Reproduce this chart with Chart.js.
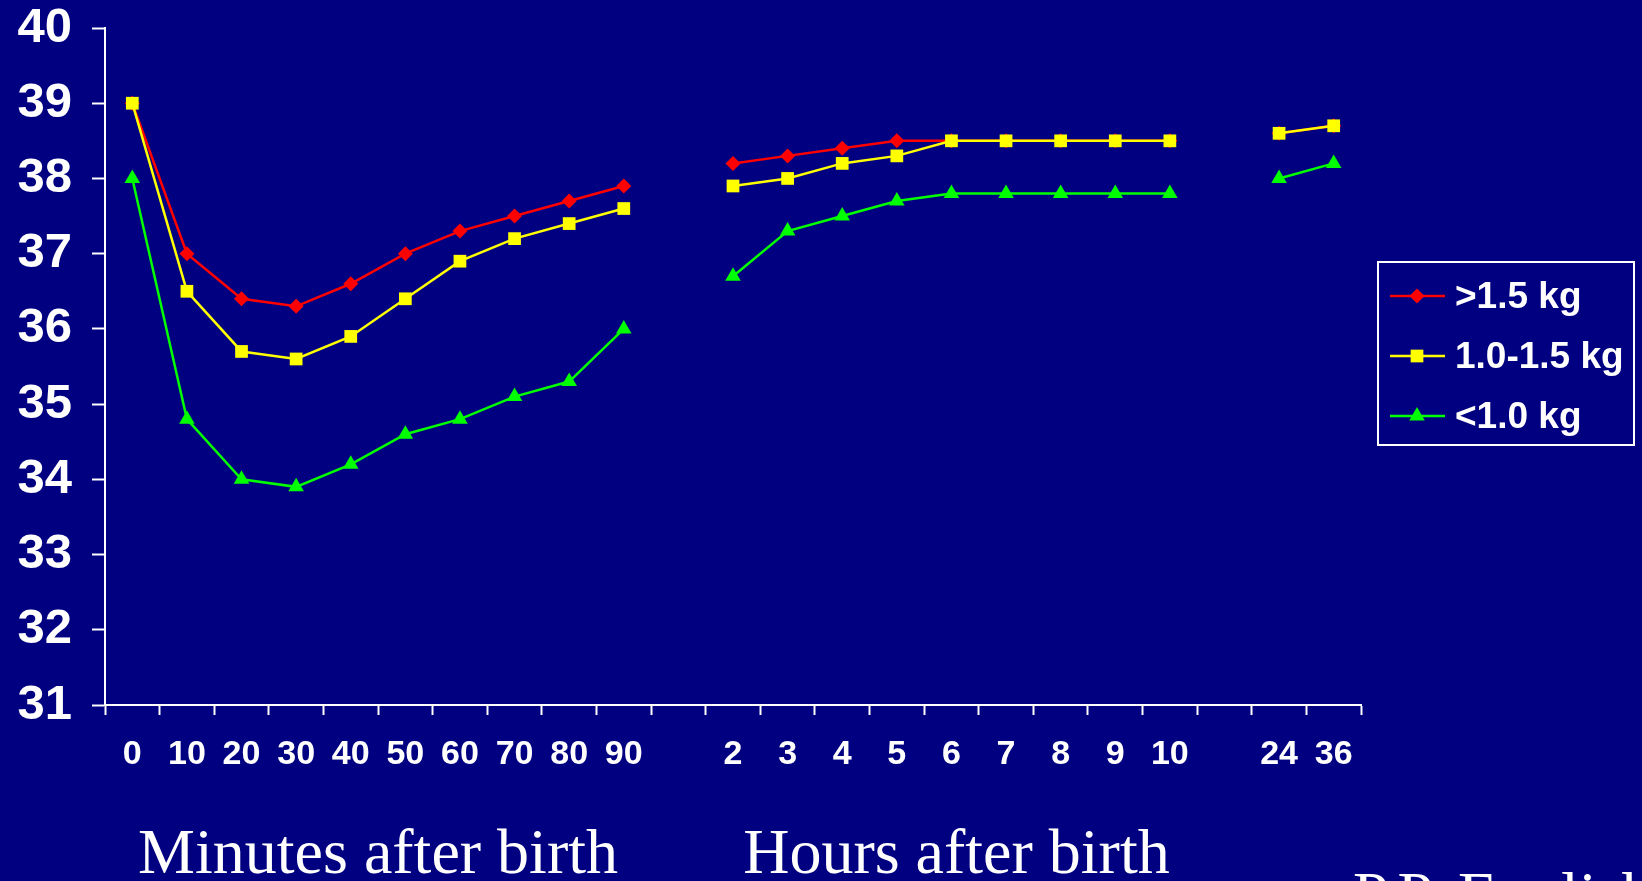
<!DOCTYPE html>
<html>
<head>
<meta charset="utf-8">
<script src="https://cdn.jsdelivr.net/npm/chart.js@4.4.1/dist/chart.umd.min.js"></script>
<style>
    html, body { margin: 0; padding: 0; background: #000080; }
    #wrap { position: relative; width: 1642px; height: 881px; overflow: hidden; }
</style>
</head>
<body>
<div id="wrap"><canvas id="tempChart"></canvas></div>
<script>
// --- Data ---
// minutes 0..90, gap, hours 2..10, gap, hours 24 and 36
const xLabels = ['0', '10', '20', '30', '40', '50', '60', '70', '80', '90', '',
                 '2', '3', '4', '5', '6', '7', '8', '9', '10', '', '24', '36'];

const seriesNames = ['>1.5 kg', '1.0-1.5 kg', '<1.0 kg'];

const over15 = [39.0, 37.0, 36.4, 36.3, 36.6, 37.0, 37.3, 37.5, 37.7, 37.9, null,
                38.2, 38.3, 38.4, 38.5, 38.5, 38.5, 38.5, 38.5, 38.5, null, 38.6, 38.7];
const from10to15 = [39.0, 36.5, 35.7, 35.6, 35.9, 36.4, 36.9, 37.2, 37.4, 37.6, null,
                    37.9, 38.0, 38.2, 38.3, 38.5, 38.5, 38.5, 38.5, 38.5, null, 38.6, 38.7];
const under10 = [38.0, 34.8, 34.0, 33.9, 34.2, 34.6, 34.8, 35.1, 35.3, 36.0, null,
                 36.7, 37.3, 37.5, 37.7, 37.8, 37.8, 37.8, 37.8, 37.8, null, 38.0, 38.2];

const yMin = 31;
const yMax = 40;

const axisTitles = ['Minutes after birth', 'Hours after birth'];
const sourceNote = 'P.P. English';

const colors = ['#ff0000', '#ffff00', '#00ff00'];
const markers = ['rectRot', 'rect', 'triangle'];
const markerSizes = [7.5, 9, 9];

// --- helpers ---
function drawMarker(ctx, style, x, y, r, color) {
    ctx.fillStyle = color;
    ctx.beginPath();
    if (style === 'rectRot') {
        ctx.moveTo(x, y - r); ctx.lineTo(x + r, y); ctx.lineTo(x, y + r); ctx.lineTo(x - r, y);
    } else if (style === 'rect') {
        const s = r * Math.SQRT1_2;
        ctx.rect(x - s, y - s, 2 * s, 2 * s);
    } else {
        ctx.moveTo(x, y - r);
        ctx.lineTo(x + r * 0.866, y + r * 0.5);
        ctx.lineTo(x - r * 0.866, y + r * 0.5);
    }
    ctx.closePath();
    ctx.fill();
}

// titles under the axis + boxed legend on the right
const extrasPlugin = {
    id: 'extras',
    afterDraw(chart) {
        const ctx = chart.ctx;
        const xs = chart.scales.x;
        const area = chart.chartArea;
        ctx.save();

        // axis titles
        ctx.fillStyle = '#ffffff';
        ctx.font = '64px "Liberation Serif", "Times New Roman", serif';
        ctx.textAlign = 'center';
        ctx.textBaseline = 'alphabetic';
        const minCenter = (xs.getPixelForValue(0) + xs.getPixelForValue(9)) / 2;
        const hourCenter = (xs.getPixelForValue(11) + xs.getPixelForValue(19)) / 2 + 5;
        ctx.fillText(axisTitles[0], minCenter, 873);
        ctx.fillText(axisTitles[1], hourCenter, 873);
        ctx.textAlign = 'left';
        ctx.fillText(sourceNote, area.right - 8, 916);

        // legend
        const boxX = area.right + 17;
        const boxY = 262;
        ctx.strokeStyle = '#ffffff';
        ctx.lineWidth = 2;
        ctx.strokeRect(boxX, boxY, 256, 183);
        ctx.font = 'bold 37px "Liberation Sans", Arial, sans-serif';
        ctx.textBaseline = 'middle';
        chart.data.datasets.forEach((ds, i) => {
            const y = boxY + 34 + i * 60;
            ctx.strokeStyle = ds.borderColor;
            ctx.lineWidth = 2.5;
            ctx.beginPath();
            ctx.moveTo(boxX + 12, y);
            ctx.lineTo(boxX + 67, y);
            ctx.stroke();
            drawMarker(ctx, markers[i], boxX + 39, y, markerSizes[i], ds.borderColor);
            ctx.fillStyle = '#ffffff';
            ctx.fillText(ds.label, boxX + 77, y + 2);
        });
        ctx.restore();
    }
};

const seriesData = [over15, from10to15, under10];

new Chart(document.getElementById('tempChart'), {
    type: 'line',
    data: {
        labels: xLabels,
        datasets: seriesData.map((values, i) => ({
            label: seriesNames[i],
            data: values,
            borderColor: colors[i],
            backgroundColor: colors[i],
            borderWidth: 2.5,
            pointStyle: markers[i],
            pointRadius: markerSizes[i],
            pointBorderWidth: 0,
            pointHoverRadius: markerSizes[i],
            spanGaps: false,
            tension: 0,
            order: [2, 1, 0][i]
        }))
    },
    options: {
        responsive: true,
        maintainAspectRatio: false,
        animation: false,
        layout: { padding: { top: 28, right: 281, bottom: 0, left: 0 } },
        plugins: {
            legend: { display: false },
            tooltip: { enabled: false }
        },
        scales: {
            x: {
                type: 'category',
                offset: true,
                afterFit(scale) { scale.height = 176; },
                grid: {
                    offset: true,
                    drawOnChartArea: false,
                    drawTicks: true,
                    tickLength: 10,
                    tickWidth: 2,
                    tickColor: '#ffffff'
                },
                border: { display: true, color: '#ffffff', width: 2 },
                ticks: {
                    color: '#ffffff',
                    autoSkip: false,
                    maxRotation: 0,
                    padding: 19,
                    font: { family: '"Liberation Sans", Arial, sans-serif', size: 34, weight: 'bold' }
                }
            },
            y: {
                min: yMin,
                max: yMax,
                afterFit(scale) {
                    scale.width = 105;
                    scale.paddingTop = 0;
                    scale.paddingBottom = 0;
                },
                grid: {
                    drawOnChartArea: false,
                    drawTicks: true,
                    tickLength: 13,
                    tickWidth: 2,
                    tickColor: '#ffffff'
                },
                border: { display: true, color: '#ffffff', width: 2 },
                ticks: {
                    stepSize: 1,
                    color: '#ffffff',
                    padding: 20,
                    font: { family: '"Liberation Sans", Arial, sans-serif', size: 49, weight: 'bold' }
                }
            }
        }
    },
    plugins: [extrasPlugin]
});
</script>
</body>
</html>
